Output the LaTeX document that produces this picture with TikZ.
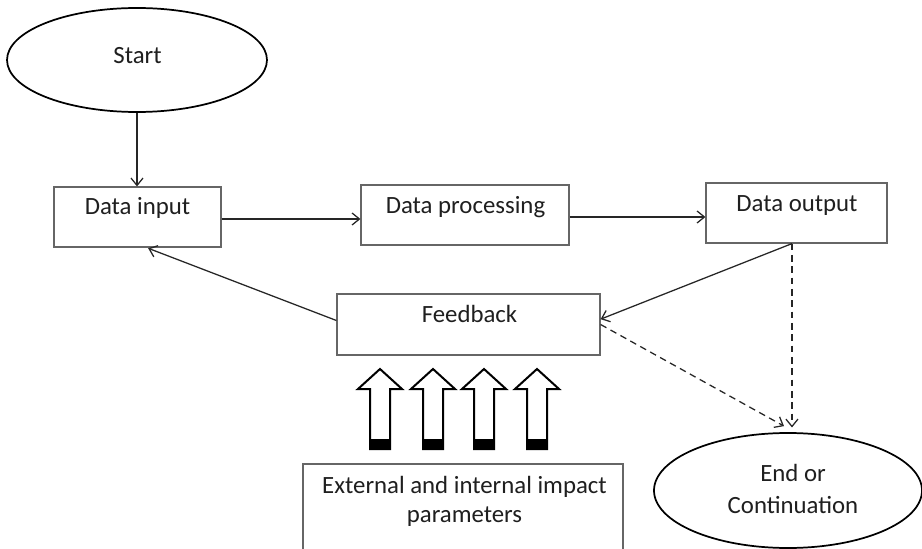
\documentclass[tikz,border=0pt]{standalone}
\usepackage{fontspec}
\setmainfont{Carlito}
\usetikzlibrary{arrows.meta,shapes.geometric}
\begin{document}
\begin{tikzpicture}[x=0.75pt,y=-0.75pt,
 box/.style={draw=black!60,line width=0.9pt,inner sep=0pt,rectangle},
 oval/.style={draw=black,line width=1.3pt,ellipse,inner sep=0pt},
 txt/.style={anchor=base,inner sep=0pt,font=\fontsize{18.6}{22}\selectfont,text=black!88},
 conn/.style={draw=black!85,line width=0.95pt,-{Straight Barb[length=5.5pt,width=9pt]}},
 dconn/.style={conn,dash pattern=on 5pt off 3.5pt},
 blk/.style={draw=black,line width=1.5pt,fill=white,line join=miter}]
\useasboundingbox (0,0) rectangle (922,549);
\fill[white] (0,0) rectangle (922,549);
\clip (0,0) rectangle (922,549);
% nodes
\node[oval,minimum width=195pt,minimum height=78pt] (start) at (137,60) {};
\node[txt] (tstart) at (137.5,64) {Start};
\node[box,minimum width=125.25pt,minimum height=45pt] (din) at (137.5,217) {};
\node[txt] (tdin) at (137.5,215) {Data input};
\node[box,minimum width=156pt,minimum height=45pt] (dproc) at (465,215) {};
\node[txt] (tdproc) at (465.5,214) {Data processing};
\node[box,minimum width=135.75pt,minimum height=45pt] (dout) at (796.5,213) {};
\node[txt] (tdout) at (797,212) {Data output};
\node[box,minimum width=197.25pt,minimum height=45.75pt] (fb) at (468.5,324.5) {};
\node[txt] (tfb) at (469.5,323) {Feedback};
\node[box,minimum width=240pt,minimum height=102pt] (ext) at (463,532) {};
\node[txt] (text1) at (464.5,493) {External and internal impact};
\node[txt] (text2) at (464.5,522) {parameters};
\node[oval,minimum width=201pt,minimum height=86.25pt] (end) at (788,490.5) {};
\node[txt] (tend1) at (793,481) {End or};
\node[txt] (tend2) at (793,513) {Continuation};
% connectors
\coordinate (dd) at ([xshift=-3.4pt]dout.south);
\draw[conn] (start.south) -- (start.south |- din.north);
\draw[conn] ([yshift=-1.5pt]din.east) -- ([yshift=-1.5pt]din.east -| dproc.west);
\draw[conn] ([yshift=-1.5pt]dproc.east) -- ([yshift=-1.5pt]dproc.east -| dout.west);
\draw[conn] ([yshift=3pt]fb.west) -- ([xshift=8pt,yshift=-0.5pt]din.south);
\draw[conn] (dd) -- ([yshift=4pt]fb.east);
\draw[dconn] (fb.east) -- ([xshift=-3pt,yshift=4.5pt]end.north);
\draw[dconn] (dd) -- ([yshift=3.5pt]dd |- end.north);
% block arrows
\foreach \cx in {380,433,484,537}{
  \draw[blk] (\cx,369) -- (\cx+22,389) -- (\cx+10,389) -- (\cx+10,449)
    -- (\cx-10,449) -- (\cx-10,389) -- (\cx-22,389) -- cycle;
  \fill[black] (\cx-10,439) rectangle (\cx+10,449);
}
\end{tikzpicture}
\end{document}
